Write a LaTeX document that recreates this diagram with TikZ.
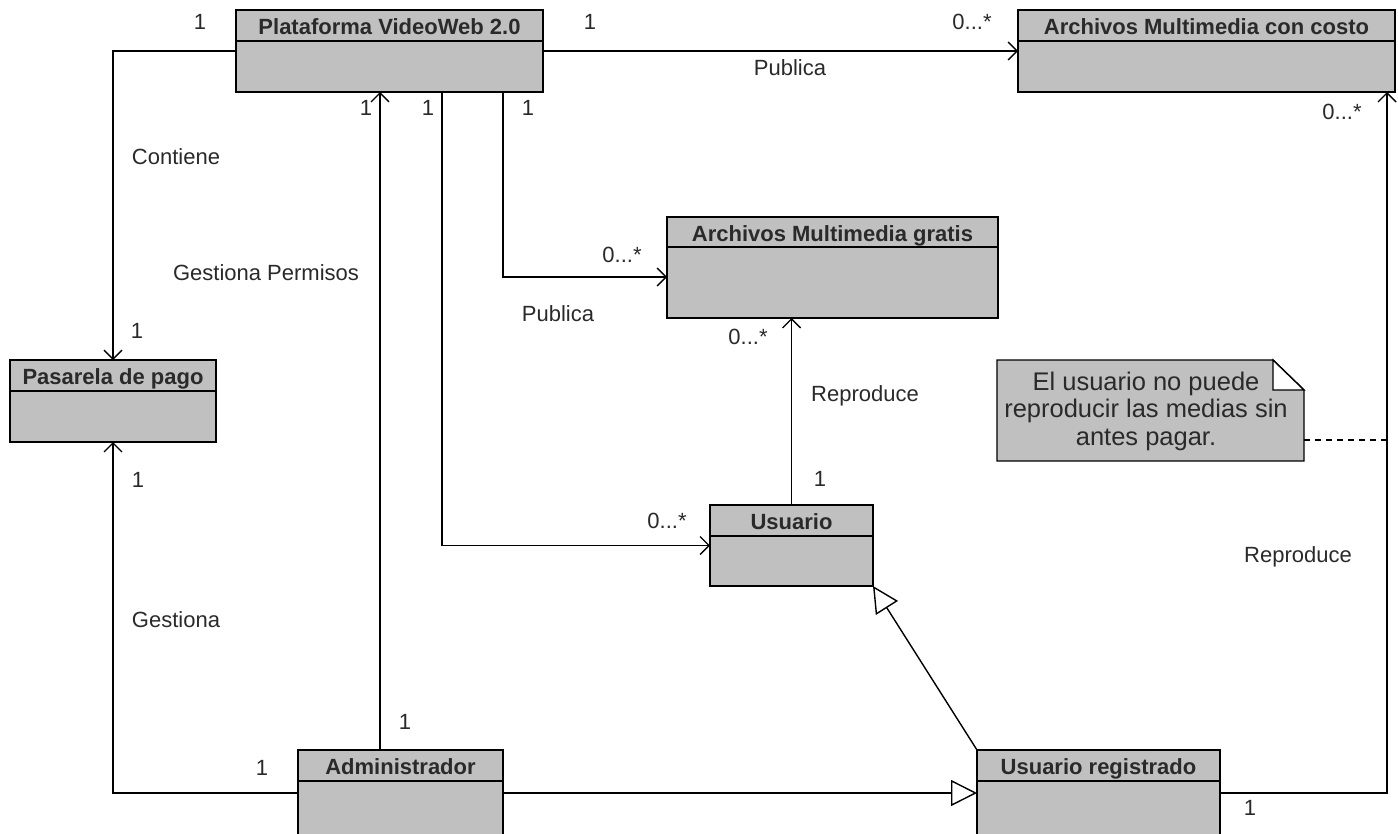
\documentclass[tikz,border=0pt]{standalone}
\usepackage{fontspec}
\setmainfont{Liberation Sans}
\usetikzlibrary{arrows.meta,calc}
\definecolor{boxgray}{HTML}{C0C0C0}
\definecolor{txt}{HTML}{2A2A2A}
\tikzset{
  clsbox/.style={draw=black, fill=boxgray, line width=1.4pt, inner sep=0pt, outer sep=0pt, anchor=north west},
  clstitle/.style={font=\bfseries\fontsize{22}{26}\selectfont, text=txt, inner sep=0pt, anchor=base},
  lbl/.style={font=\fontsize{22}{26}\selectfont, text=txt, inner sep=0pt},
  notetext/.style={font=\fontsize{25.5}{27.5}\selectfont, text=txt, inner sep=0pt, align=center},
  assoc/.style={draw=black, line width=1.4pt, -{Straight Barb[length=9pt,width=18pt,line width=1.4pt]}},
  gen/.style={draw=black, line width=1.4pt, -{Triangle[open,length=26pt,width=26pt,fill=white,line width=1.4pt]}},
  plainline/.style={draw=black, line width=1.4pt},
}
\newcommand{\umlclass}[7]{%
  \node[clsbox, minimum width={(#4-#2)*1pt}, minimum height={(#5-#3)*1pt}] (#1) at (#2,#3) {};
  \draw[plainline] (#2,#6) -- (#4,#6);
  \node[clstitle] (#1-title) at ({(#2+#4)/2},{#3+24}) {#7};
}
\begin{document}
\begin{tikzpicture}[x=1pt,y=-1pt]
\useasboundingbox (0,0) rectangle (1398,833);
\clip (0,0) rectangle (1398,833);
\fill[white] (0,0) rectangle (1398,833);

% classes
\umlclass{plat}{236}{10}{543}{92}{41}{Plataforma VideoWeb 2.0}
\umlclass{costo}{1018}{10}{1395}{92}{41}{Archivos Multimedia con costo}
\umlclass{grat}{667}{217}{998}{318}{247}{Archivos Multimedia gratis}
\umlclass{pas}{10}{360}{216}{442}{391}{Pasarela de pago}
\umlclass{usu}{710}{505}{873}{586}{536}{Usuario}
\umlclass{admin}{298}{750}{503}{836}{781}{Administrador}
\umlclass{ureg}{977}{750}{1220}{836}{781}{Usuario registrado}

% note
\node[anchor=north west, minimum width=307pt, minimum height=101pt, inner sep=0pt, outer sep=0pt] (note) at (997,360) {};
\draw[plainline, fill=boxgray] (note.north west) -- ([xshift=-31pt]note.north east) -- ([yshift=-30pt]note.north east) -- (note.south east) -- (note.south west) -- cycle;
\draw[plainline, fill=white] ([xshift=-31pt]note.north east) -- ([xshift=-31pt,yshift=-30pt]note.north east) -- ([yshift=-30pt]note.north east) -- cycle;
\node[notetext] (notetxt) at (1146,411) {El usuario no puede\\reproducir las medias sin\\antes pagar.};
\coordinate (noteEnd) at (1387,440);
\draw[plainline, dash pattern=on 6pt off 5pt] ([yshift=-80pt]note.north east) -- (noteEnd);

% connectors
\draw[assoc] (plat.west) -| (pas.north);
\draw[assoc] (plat.east) -- (costo.west);
\draw[assoc] ([xshift=-20.5pt]admin.north) -- ([xshift=-20.5pt]admin.north |- plat.south);
\draw[assoc] ([xshift=52.5pt]plat.south) |- (usu.west);
\draw[assoc] ([xshift=113.5pt]plat.south) |- ([yshift=-9.5pt]grat.west);
\draw[assoc] (usu.north) -- (usu.north |- grat.south);
\draw[assoc] (admin.west) -| (pas.south);
\draw[gen] (admin.east) -- (ureg.west);
\draw[gen] (ureg.north west) -- (usu.south east);
\draw[assoc] (ureg.east) -| ([xshift=-8pt]costo.south east);

% labels
\node[lbl] (m1) at (200,22) {1};
\node[lbl] (m2) at (590,22) {1};
\node[lbl] (m3) at (972,22) {0...*};
\node[lbl] (l1) at (790,68) {Publica};
\node[lbl] (m4) at (1342,112) {0...*};
\node[lbl] (m5) at (366,108) {1};
\node[lbl] (m6) at (428,108) {1};
\node[lbl] (m7) at (528,108) {1};
\node[lbl] (l2) at (176,157) {Contiene};
\node[lbl] (l3) at (266,273) {Gestiona Permisos};
\node[lbl] (m8) at (622,255) {0...*};
\node[lbl] (l4) at (558,314) {Publica};
\node[lbl] (m9) at (137,331) {1};
\node[lbl] (m10) at (748,337) {0...*};
\node[lbl] (l5) at (865,396) {Reproduce};
\node[lbl] (m11) at (138,480) {1};
\node[lbl] (m12) at (820,479) {1};
\node[lbl] (m13) at (667,521) {0...*};
\node[lbl] (l6) at (1298,557) {Reproduce};
\node[lbl] (l7) at (176,620) {Gestiona};
\node[lbl] (m14) at (405,722) {1};
\node[lbl] (m15) at (262,768) {1};
\node[lbl] (m16) at (1250,808) {1};
\end{tikzpicture}
\end{document}
